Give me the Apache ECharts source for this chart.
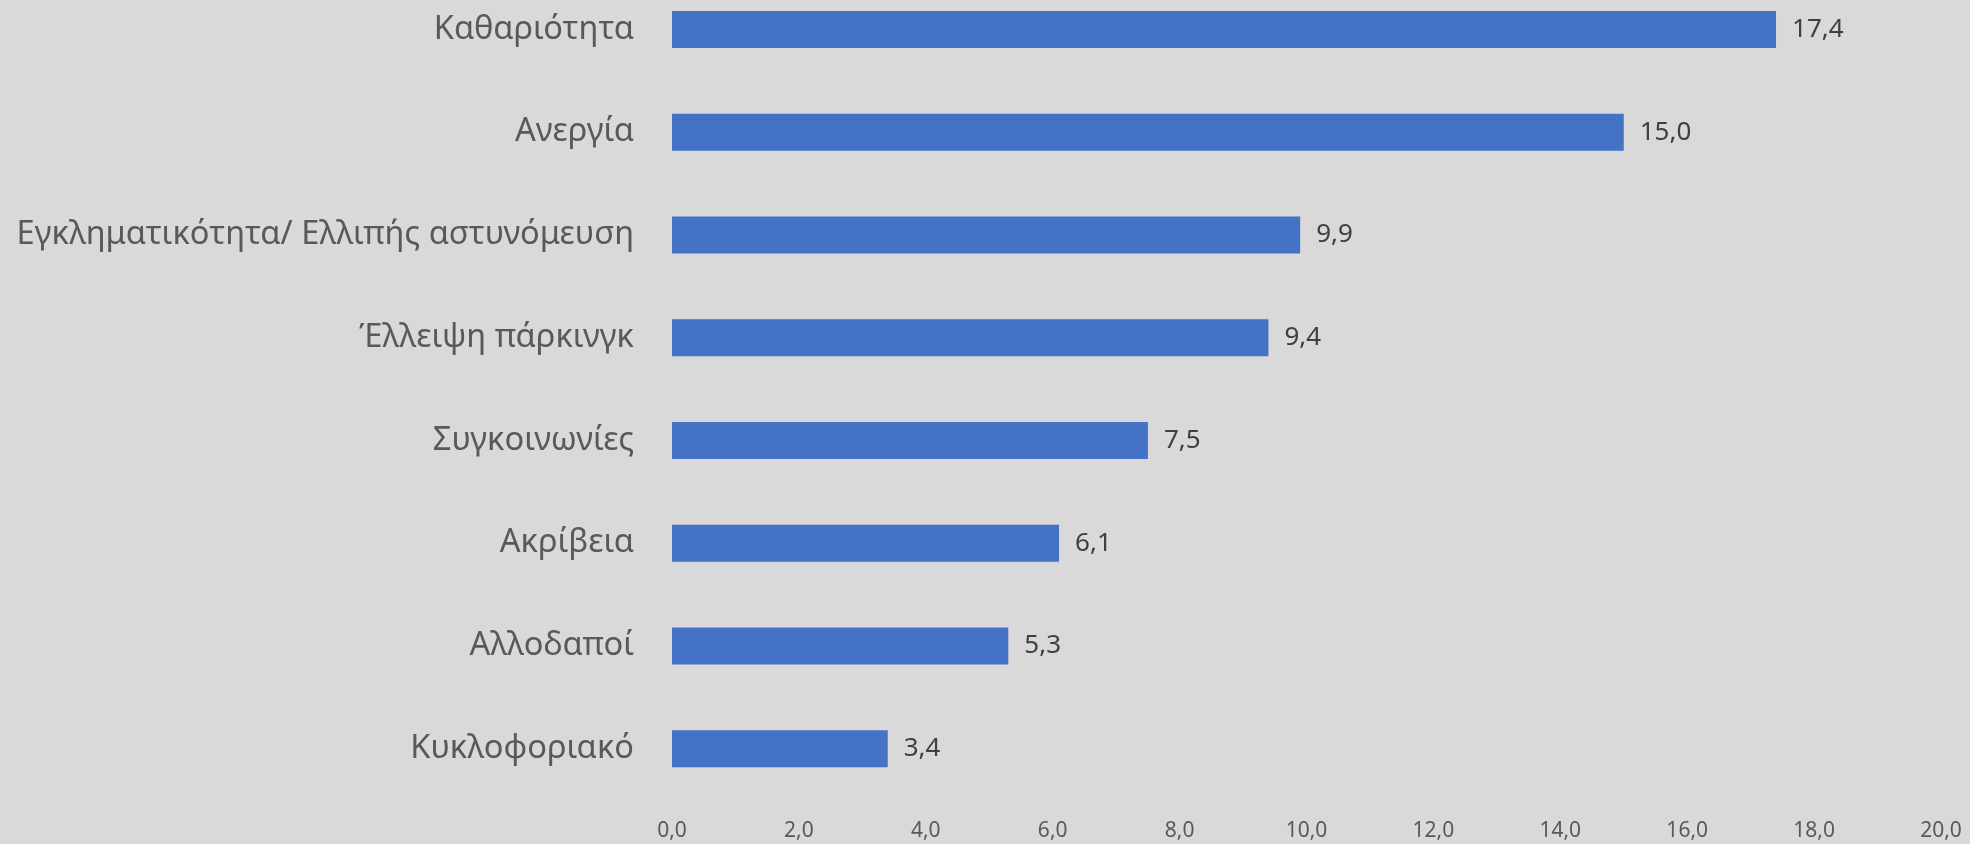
<!DOCTYPE html>
<html>
<head>
<meta charset="utf-8">
<script src="https://cdn.jsdelivr.net/npm/echarts@6/dist/echarts.min.js"></script>
<style>
html,body{margin:0;padding:0;background:#D9D9D9;overflow:hidden;}
#chart{position:absolute;left:0;top:-22px;width:1970px;height:866px;}
</style>
</head>
<body>
<div id="chart"></div>
<script>
const categories = ['Καθαριότητα','Ανεργία','Εγκληματικότητα/ Ελλιπής αστυνόμευση','Έλλειψη πάρκινγκ','Συγκοινωνίες','Ακρίβεια','Αλλοδαποί','Κυκλοφοριακό'];
const values = [17.4, 15.0, 9.9, 9.4, 7.5, 6.1, 5.3, 3.4];
const axisMin = 0, axisMax = 20, axisStep = 2;

const fmt = v => Number(v).toFixed(1).replace('.', ',');
const chart = echarts.init(document.getElementById('chart'), null, {renderer:'canvas'});
chart.setOption({
  backgroundColor:'#D9D9D9',
  animation:false,
  grid:{left:672, right:29, top:0, bottom:44, containLabel:false},
  xAxis:{
    type:'value', min:axisMin, max:axisMax, interval:axisStep,
    axisLine:{show:false}, axisTick:{show:false}, splitLine:{show:false},
    axisLabel:{formatter:fmt, color:'#595959', fontFamily:'Noto Sans', fontSize:21, margin:21}
  },
  yAxis:{
    type:'category', data:categories, inverse:true,
    axisLine:{show:false}, axisTick:{show:false}, splitLine:{show:false},
    axisLabel:{color:'#595959', fontFamily:'Noto Sans', fontSize:32.6, margin:38}
  },
  series:[{
    type:'bar', data:values, barWidth:37,
    itemStyle:{color:'#4472C4'},
    label:{show:true, position:'right', distance:16, formatter:p=>fmt(p.value), color:'#404040', fontFamily:'Noto Sans', fontSize:26}
  }]
});
</script>
</body>
</html>
